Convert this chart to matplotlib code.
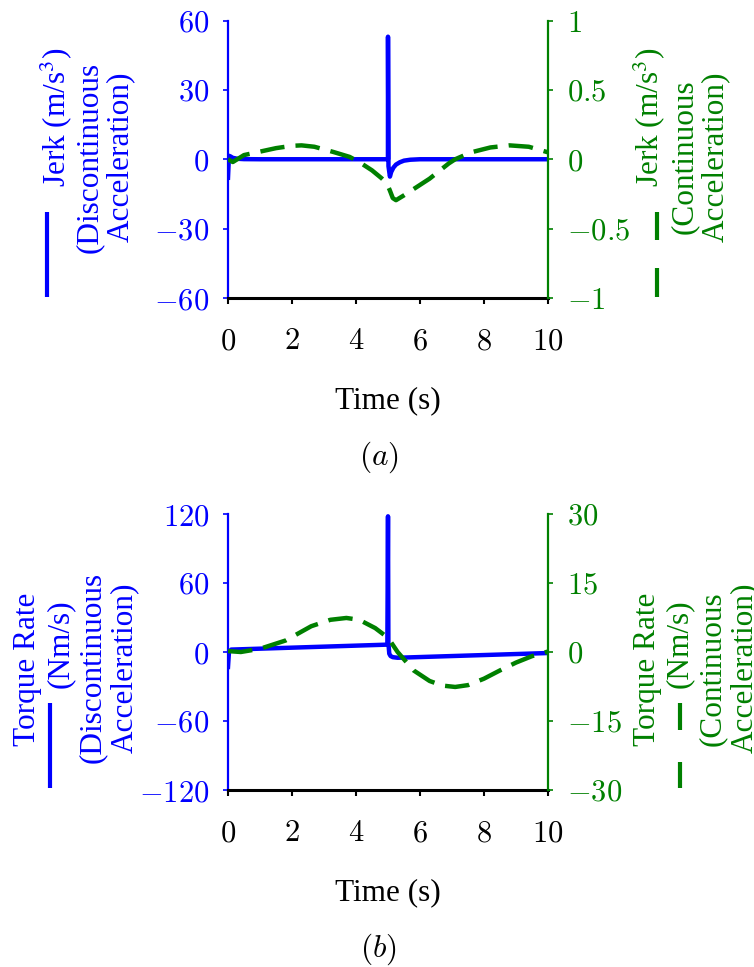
import matplotlib
matplotlib.use("Agg")
import matplotlib.pyplot as plt
from matplotlib.lines import Line2D
from matplotlib.ticker import FuncFormatter, MultipleLocator

plt.rcParams['font.family'] = ['Liberation Serif', 'DejaVu Serif']
plt.rcParams['mathtext.fontset'] = 'cm'

BLUE = '#0000ff'
GREEN = '#008000'

# ---------------- data ----------------
# (a) Jerk, discontinuous acceleration (left axis, m/s^3)
t_jerk_disc = [0, 0.03, 0.08, 0.15, 0.3, 0.5, 1, 4.998, 5.0, 5.015, 5.06, 5.1,
               5.17, 5.25, 5.37, 5.5, 5.7, 6.0, 10]
jerk_disc = [-8, 1.5, 1.2, 0.6, 0.2, 0.05, 0, 0, 53, -3, -7.5, -5.5,
             -3.6, -2.3, -1.3, -0.6, -0.2, 0, 0]

# (a) Jerk, continuous acceleration (right axis, m/s^3)
t_jerk_cont = [0, 0.15, 0.5, 1.0, 1.5, 2.0, 2.3, 2.7, 3.3, 3.8, 4.1, 4.5, 4.8,
               4.95, 5.05, 5.15, 5.25, 5.5, 5.9, 6.3, 6.9, 7.1, 7.6, 8.2, 8.8,
               9.4, 10]
jerk_cont = [0, -0.02, 0.03, 0.055, 0.08, 0.097, 0.1, 0.09, 0.052, 0.017, -0.02,
             -0.08, -0.137, -0.17, -0.22, -0.28, -0.295, -0.26, -0.2, -0.14,
             -0.03, 0.0, 0.05, 0.085, 0.1, 0.09, 0.05]

# (b) Torque rate, discontinuous acceleration (left axis, Nm/s)
t_tq_disc = [0, 0.03, 0.1, 4.98, 5.0, 5.012, 5.04, 5.08, 5.15, 5.3, 10]
tq_disc = [-13, 0, 2.1, 6.4, 118, 8, -1.5, -3.5, -4.5, -5.0, -0.9]

# (b) Torque rate, continuous acceleration (right axis, Nm/s)
t_tq_cont = [0, 0.4, 1.0, 1.8, 2.6, 3.2, 3.7, 4.1, 4.6, 5.0, 5.3, 5.8, 6.3,
             6.7, 7.1, 7.5, 8.0, 8.5, 9.0, 9.5, 10]
tq_cont = [0.2, 0.0, 0.7, 2.5, 5.6, 7.0, 7.4, 7.0, 5.2, 3.1, 0.0, -4.0, -6.3,
           -7.3, -7.6, -7.2, -5.8, -4.0, -2.3, -0.9, 0.1]

x_ticks = [0, 2, 4, 6, 8, 10]

# ---------------- figure ----------------
W, H = 754, 967
fig = plt.figure(figsize=(W / 100, H / 100), dpi=100)


def fx(px):
    return px / W


def fy(py):
    return 1 - py / H


def fmt(v, p):
    return f"${v + 0:g}$"


def panel(top, bottom, tl, yl, tr, yr, lim_l, step_l, lim_r, step_r):
    ax = fig.add_axes([fx(228), fy(bottom), (548 - 228) / W, (bottom - top) / H])
    ax2 = ax.twinx()
    ax.plot(tl, yl, color=BLUE, lw=3.2, solid_joinstyle='round')
    ax2.plot(tr, yr, color=GREEN, lw=3.2, dashes=(5.5, 2.5))
    ax.set_xlim(0, 10)
    ax.set_xticks(x_ticks)
    ax.set_ylim(-lim_l, lim_l)
    ax.yaxis.set_major_locator(MultipleLocator(step_l))
    ax2.set_ylim(-lim_r, lim_r)
    ax2.yaxis.set_major_locator(MultipleLocator(step_r))
    ax.xaxis.set_major_formatter(FuncFormatter(fmt))
    ax.yaxis.set_major_formatter(FuncFormatter(fmt))
    ax2.yaxis.set_major_formatter(FuncFormatter(fmt))
    for a in (ax, ax2):
        a.spines['top'].set_visible(False)
        a.patch.set_visible(False)
    ax.spines['right'].set_visible(False)
    ax2.spines['left'].set_visible(False)
    ax2.spines['bottom'].set_visible(False)
    ax.spines['left'].set_color(BLUE)
    ax.spines['left'].set_linewidth(1.6)
    ax2.spines['right'].set_color(GREEN)
    ax2.spines['right'].set_linewidth(1.6)
    ax.spines['bottom'].set_color('black')
    ax.spines['bottom'].set_linewidth(2.2)
    ax.tick_params(axis='y', colors=BLUE, direction='out', length=3.5,
                   width=1.2, pad=10, labelsize=22)
    ax2.tick_params(axis='y', colors=GREEN, direction='out', length=3.5,
                    width=1.2, pad=10, labelsize=22)
    ax.tick_params(axis='x', colors='black', direction='out', length=4,
                   width=1.5, pad=17, labelsize=22)
    return ax, ax2


panel(20.5, 298, t_jerk_disc, jerk_disc, t_jerk_cont, jerk_cont, 60, 30, 1, 0.5)
panel(514, 790, t_tq_disc, tq_disc, t_tq_cont, tq_cont, 120, 60, 30, 15)

FS = 22.5


def vtext(xb, yc, s, color):
    fig.text(fx(xb), fy(yc), s, rotation=90, rotation_mode='anchor',
             ha='center', va='baseline', color=color, fontsize=FS,
             math_fontfamily='stix')


def vline(x, y0, y1, color):
    fig.add_artist(Line2D([fx(x), fx(x)], [fy(y0), fy(y1)], color=color, lw=3,
                          solid_capstyle='butt', transform=fig.transFigure))


# (a) left label
vtext(65, 117.5, "Jerk (m/s$^3$)", BLUE)
vtext(96.5, 157.5, "(Discontinuous", BLUE)
vtext(128, 157, "Acceleration)", BLUE)
vline(46.7, 297, 212, BLUE)
# (a) right label
vtext(658.3, 117.5, "Jerk (m/s$^3$)", GREEN)
vtext(691.7, 156.5, "(Continuous", GREEN)
vtext(722.7, 157, "Acceleration)", GREEN)
vline(656.7, 297, 268, GREEN)
vline(656.7, 240, 212, GREEN)

# (b) left label
vtext(35, 669.5, "Torque Rate", BLUE)
vtext(68.3, 643.5, "(Nm/s)", BLUE)
vtext(100, 667.5, "(Discontinuous", BLUE)
vtext(131.7, 668, "Acceleration)", BLUE)
vline(50, 788, 703, BLUE)
# (b) right label
vtext(655, 669.5, "Torque Rate", GREEN)
vtext(686.7, 643.5, "(Nm/s)", GREEN)
vtext(720, 668.5, "(Continuous", GREEN)
vtext(751.7, 668, "Acceleration)", GREEN)
vline(680, 788, 762, GREEN)
vline(680, 730, 703, GREEN)

# x labels and captions
fig.text(fx(388), fy(408.3), "Time (s)", ha='center', va='baseline', fontsize=FS)
fig.text(fx(388), fy(900), "Time (s)", ha='center', va='baseline', fontsize=FS)
fig.text(fx(378.5), fy(465), "$(a)$", ha='center', va='baseline', fontsize=FS)
fig.text(fx(378.5), fy(956.7), "$(b)$", ha='center', va='baseline', fontsize=FS)

fig.savefig("out.png", dpi=100)
